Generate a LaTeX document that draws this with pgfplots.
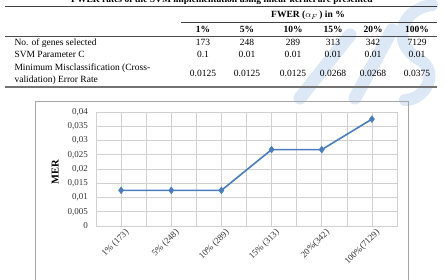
\documentclass[border=0pt]{standalone}
\usepackage{pgfplots}
\pgfplotsset{compat=1.18}
\usepackage{fontspec}
\setmainfont{Liberation Serif}

\definecolor{serieblue}{HTML}{4A7EBB}
\definecolor{gridgray}{HTML}{D0D0D0}
\definecolor{framegray}{HTML}{A6A6A6}
\definecolor{markblue}{HTML}{DCE8F6}

\pgfplotstableread{
x mer
0 0.0125
1 0.0125
2 0.0125
3 0.0268
4 0.0268
5 0.0375
}\mertable

\begin{document}
\begin{tikzpicture}[x=1pt,y=1pt]
\useasboundingbox (0,0) rectangle (445,-280);
\clip (0,0) rectangle (445,-280);

% faint logo in the background
\begin{scope}[line cap=round]
\draw[markblue, line width=13pt] (300,-98) -- (350,-35);
\draw[markblue, line width=13pt] (355,-98) -- (392,-30);
\draw[markblue, line width=12pt] (432,-5) .. controls (398,-10) and (392,-45) .. (420,-60) .. controls (440,-72) and (425,-100) .. (405,-100);
\end{scope}

% table
\node[font=\fontsize{9.5}{11}\selectfont\bfseries, anchor=base] at (222,-3) {FWER rates of the SVM implementation using linear kernel are presented};
\draw[line width=0.9pt, black!75] (5,-6) -- (437,-6);
\node[font=\fontsize{9.5}{11}\selectfont\bfseries, anchor=base] at (308,-17.5) {FWER ($\alpha_F$\,) in \%};
\draw[line width=0.9pt, black!75] (181,-22) -- (437,-22);
\foreach \c/\t in {203/1\%, 247/5\%, 293/10\%, 333/15\%, 373/20\%, 417/100\%}
  \node[font=\fontsize{9.5}{11}\selectfont\bfseries, anchor=base] at (\c,-33) {\t};
\draw[line width=0.7pt, black!70] (5,-36) -- (437,-36);
\begin{scope}[every node/.style={font=\fontsize{9.5}{11}\selectfont, anchor=base}]
\node[anchor=base west] at (11,-45.5) {No. of genes selected};
\node[anchor=base west] at (11,-58) {SVM Parameter C};
\node[anchor=base west] at (11,-70.5) {Minimum Misclassification (Cross-};
\node[anchor=base west] at (11,-83) {validation) Error Rate};
\foreach \c/\a/\b/\d in {203/173/0.1/0.0125, 247/248/0.01/0.0125, 293/289/0.01/0.0125,
    333/313/0.01/0.0268, 373/342/0.01/0.0268, 417/7129/0.01/0.0375}{
  \node at (\c,-45.5) {\a};
  \node at (\c,-58) {\b};
  \node at (\c,-77) {\d};
}
\end{scope}
\draw[line width=1.4pt, black!55] (5,-87) -- (437,-87);

% chart frame
\draw[framegray, line width=0.8pt] (35,-101) rectangle (408,-300);

\begin{axis}[
  at={(96pt,-226pt)}, anchor=south west,
  scale only axis, width=301pt, height=114pt,
  xmin=-0.5, xmax=5.5, ymin=0, ymax=0.04,
  xtick={0,...,5},
  minor xtick={-0.5,0.5,...,5.5},
  xticklabels={1\% (173), 5\% (248), 10\% (289), 15\% (313), 20\%(342), 100\%(7129)},
  ytick={0,0.005,...,0.0401},
  scaled y ticks=false,
  yticklabel={\pgfmathprintnumber[fixed, precision=3, use comma, assume math mode=true]{\tick}},
  grid=both,
  major grid style={gridgray, line width=0.6pt},
  minor grid style={gridgray, line width=0.6pt},
  axis line style={gridgray, line width=0.6pt},
  major tick length=0pt, minor tick length=0pt,
  tick label style={font=\fontsize{9}{10}\selectfont, text=black!80},
  xticklabel style={rotate=45, anchor=north east, inner sep=1pt, xshift=2pt, yshift=-3pt},
  yticklabel style={inner sep=1pt, xshift=-7pt},
  ylabel={\textbf{MER}},
  ylabel style={at={(axis description cs:-0.136,0.47)}, anchor=center, font=\fontsize{10.5}{12}\selectfont},
  clip=false,
]
\addplot[serieblue, line width=1.6pt, mark=diamond*, mark size=3.4pt,
  mark options={fill=serieblue, line width=0.5pt}] table[x=x, y=mer] {\mertable};
\end{axis}
\end{tikzpicture}
\end{document}
